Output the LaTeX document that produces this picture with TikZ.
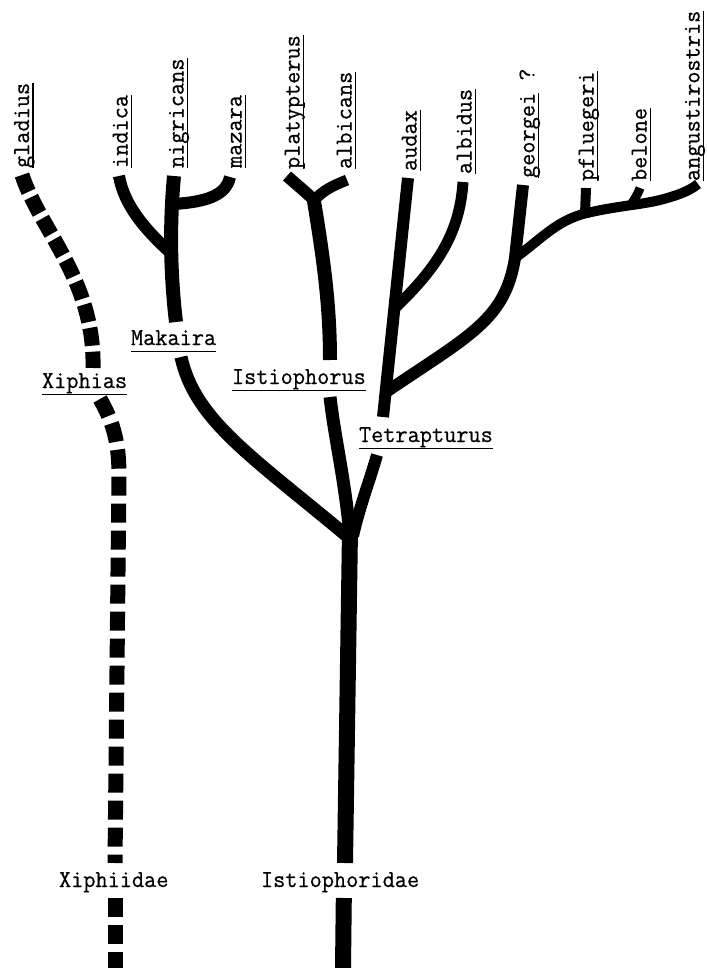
\documentclass[tikz,border=0pt]{standalone}
\usepackage{fontspec}
\newfontface\twfont{Latin Modern Mono}[FakeBold=0.6]
\newsavebox\ulbox
\newcommand\myul[2]{\sbox\ulbox{#2}\rlap{\rule[-#1]{\wd\ulbox}{1.4pt}}\usebox\ulbox}
\newcommand\lblfont{\twfont\fontsize{22.5}{27}\selectfont}
\newcommand\lbl[1]{\scalebox{1.05}[1.08]{#1}}
\tikzset{
  br/.style={draw=black, line width=#1, line cap=butt, line join=round},
  xdone/.style={draw=black, line width=15pt, line cap=butt, dash pattern=on 18pt off 6pt},
  xdtwo/.style={draw=black, line width=15pt, line cap=butt, dash pattern=on 19pt off 8pt},
  lab/.style={font=\lblfont, inner sep=0pt, outer sep=0pt},
  vlab/.style={lab, rotate=90, anchor=base west},
  hlab/.style={lab, anchor=base west},
}
\begin{document}
\begin{tikzpicture}[x=1pt,y=-1pt]
\useasboundingbox (0,0) rectangle (706,968);
\fill[white] (0,0) rectangle (706,968);

% ---- coordinates
\coordinate (root) at (343,968);
\coordinate (tg1) at (343.8,898);
\coordinate (tg2) at (345,863);
\coordinate (F) at (350,530);
\coordinate (F1) at (347,536);
\coordinate (F2) at (350,536);
\coordinate (F3) at (353,536);
\coordinate (gla) at (22,175);
\coordinate (xu) at (93,368);
\coordinate (xl) at (100,399);
\coordinate (xg1) at (115,863);
\coordinate (xg2) at (115,898);
\coordinate (xb) at (115,968);
\coordinate (mk1) at (181,357);
\coordinate (mk2) at (176,322);
\coordinate (nig) at (174,176);
\coordinate (ind) at (119,176);
\coordinate (mj1) at (172,254);
\coordinate (maz) at (230,177);
\coordinate (mj2) at (174,204);
\coordinate (pla) at (287,176);
\coordinate (alb) at (347,180);
\coordinate (ij) at (316,202);
\coordinate (ij2) at (313,202);
\coordinate (is1) at (313,195);
\coordinate (is2) at (330,360);
\coordinate (is3) at (330,397);
\coordinate (te1) at (377,455);
\coordinate (te2) at (383,417);
\coordinate (aud) at (408,178);
\coordinate (ald) at (463,182);
\coordinate (aj) at (396,307);
\coordinate (geo) at (523,185);
\coordinate (gj) at (515,258);
\coordinate (gj2) at (386,392);
\coordinate (pj) at (583,214);
\coordinate (bj) at (660,200);
\coordinate (ang) at (698,184);
\coordinate (pfl) at (586,188);
\coordinate (pfj) at (585,214);
\coordinate (bel) at (640,188);
\coordinate (bej) at (630,206);

% ---- Xiphias (dashed)
\draw[xdone] (gla) .. controls (40,230) and (95,280) .. (xu);
\draw[xdtwo] (xl) .. controls (112,420) and (119,440) .. (119,475) -- (xg1);
\draw[xdtwo] (xg2) -- (xb);

% ---- trunk
\draw[br=16] (root) -- (tg1);
\draw[br=16] (tg2) -- (F);

% ---- Makaira
\draw[br=13] (mk1) .. controls (195,420) and (250,455) .. (F1);
\draw[br=14] (mk2) .. controls (171,280) and (169,230) .. (nig);
\draw[br=12] (ind) .. controls (124,205) and (145,230) .. (mj1);
\draw[br=12] (maz) .. controls (226,196) and (205,202) .. (mj2);

% ---- Istiophorus
\draw[br=12] (pla) .. controls (297,185) and (306,192) .. (ij);
\draw[br=11] (alb) .. controls (335,185) and (322,190) .. (ij2);
\draw[br=14] (is1) .. controls (322,250) and (330,300) .. (is2);
\draw[br=13] (is3) .. controls (335,440) and (345,480) .. (F2);

% ---- Tetrapturus
\draw[br=12] (te1) .. controls (370,480) and (360,505) .. (F3);
\draw[br=12] (te2) -- (aud);
\draw[br=11] (ald) .. controls (460,230) and (440,265) .. (aj);
\draw[br=12] (geo) -- (gj) .. controls (505,320) and (470,335) .. (gj2);
\draw[br=10] (gj) .. controls (540,240) and (555,222) .. (pj)
   .. controls (615,206) and (640,205) .. (bj)
   .. controls (675,196) and (688,192) .. (ang);
\draw[br=10] (pfl) -- (pfj);
\draw[br=9] (bel) .. controls (637,196) and (634,200) .. (bej);

% ---- species labels (vertical)
\node[vlab] (Lgla) at (29,168) {\lbl{\myul{4.2pt}{gladius}}};
\node[vlab] (Lind) at (127.5,168) {\lbl{\myul{4.2pt}{indica}}};
\node[vlab] (Lnig) at (183.5,168) {\lbl{\myul{4.2pt}{nigricans}}};
\node[vlab] (Lmaz) at (241.5,168) {\lbl{\myul{4.2pt}{mazara}}};
\node[vlab] (Lpla) at (299.5,169) {\lbl{\myul{4.2pt}{platypterus}}};
\node[vlab] (Lalb) at (351.5,169) {\lbl{\myul{4.2pt}{albicans}}};
\node[vlab] (Laud) at (416.5,171) {\lbl{\myul{4.2pt}{audax}}};
\node[vlab] (Lald) at (471.5,174) {\lbl{\myul{4.2pt}{albidus}}};
\node[vlab] (Lgeo) at (534.5,178) {\lbl{\myul{4.2pt}{georgei}\ ?}};
\node[vlab] (Lpfl) at (593.5,181) {\lbl{\myul{4.2pt}{pfluegeri}}};
\node[vlab] (Lbel) at (646.5,181) {\lbl{\myul{4.2pt}{belone}}};
\node[vlab] (Lang) at (699.5,181) {\lbl{\myul{4.2pt}{angustirostris}}};

% ---- genus labels
\node[hlab] (Gmak) at (131,345) {\lbl{\myul{6.6pt}{Makaira}}};
\node[hlab] (Gxip) at (42,388) {\lbl{\myul{6.6pt}{Xiphias}}};
\node[hlab] (Gist) at (232,384) {\lbl{\myul{6.6pt}{Istiophorus}}};
\node[hlab] (Gtet) at (359,442) {\lbl{\myul{6.6pt}{Tetrapturus}}};

% ---- family labels
\node[hlab] (Fxip) at (59,887) {\lbl{Xiphiidae}};
\node[hlab] (Fist) at (261,887) {\lbl{Istiophoridae}};
\end{tikzpicture}
\end{document}
